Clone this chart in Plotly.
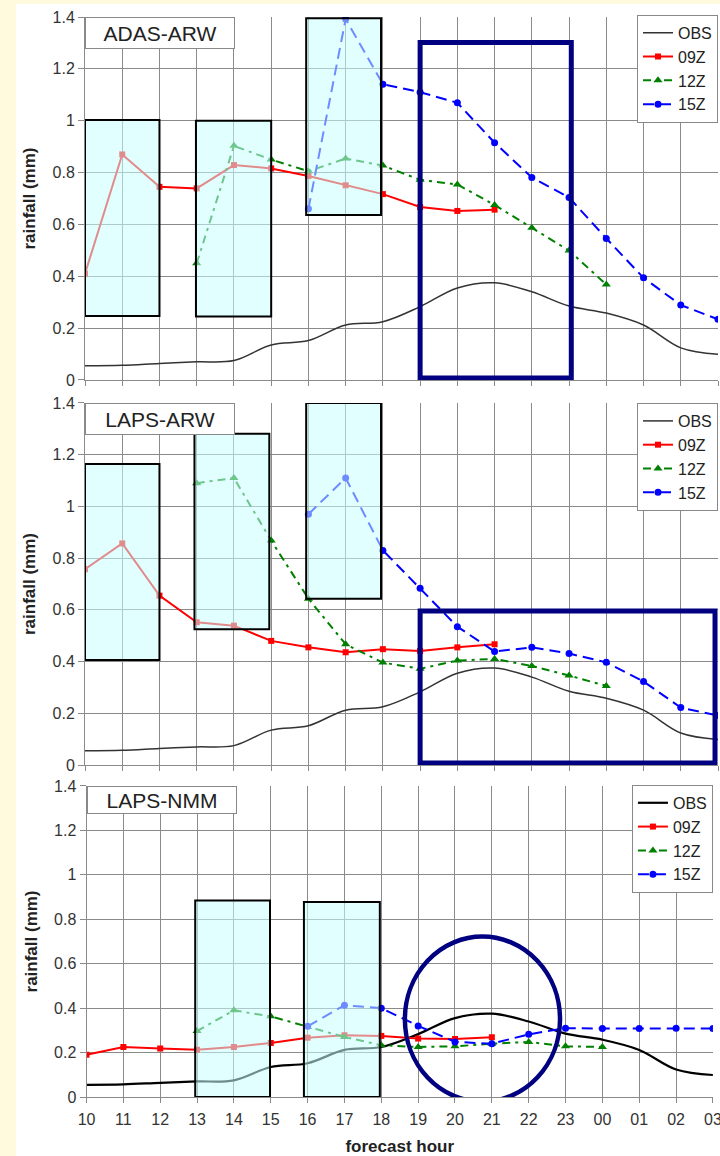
import plotly.graph_objects as go

# ---------------- data ----------------
hours = ["10", "11", "12", "13", "14", "15", "16", "17", "18",
         "19", "20", "21", "22", "23", "00", "01", "02", "03"]

obs = [0.055, 0.057, 0.064, 0.07, 0.075, 0.135, 0.152, 0.212, 0.225,
       0.283, 0.355, 0.375, 0.34, 0.285, 0.258, 0.212, 0.124, 0.099]

adas_09 = [0.41, 0.87, 0.745, 0.739, 0.829, 0.816, 0.787, 0.751, 0.717,
           0.667, 0.652, 0.657, None, None, None, None, None, None]
adas_12 = [None, None, None, 0.45, 0.903, 0.85, 0.805, 0.854, 0.827,
           0.772, 0.754, 0.675, 0.587, 0.499, 0.368, None, None, None]
adas_15 = [None, None, None, None, None, None, 0.66, 1.392, 1.141,
           1.11, 1.069, 0.915, 0.781, 0.704, 0.546, 0.394, 0.289, 0.234]

lapsarw_09 = [0.757, 0.857, 0.655, 0.552, 0.539, 0.48, 0.455, 0.436, 0.448,
              0.441, 0.455, 0.467, None, None, None, None, None, None]
lapsarw_12 = [None, None, None, 1.09, 1.11, 0.868, 0.643, 0.467, 0.396,
              0.372, 0.404, 0.41, 0.383, 0.346, 0.306, None, None, None]
lapsarw_15 = [None, None, None, None, None, None, 0.97, 1.11, 0.83,
              0.684, 0.535, 0.439, 0.455, 0.431, 0.397, 0.323, 0.222, 0.191]

lapsnmm_09 = [0.19, 0.225, 0.218, 0.213, 0.225, 0.243, 0.267, 0.278, 0.275,
              0.263, 0.261, 0.269, None, None, None, None, None, None]
lapsnmm_12 = [None, None, None, 0.297, 0.39, 0.363, 0.315, 0.27, 0.233,
              0.225, 0.228, 0.24, 0.248, 0.228, 0.225, None, None, None]
lapsnmm_15 = [None, None, None, None, None, None, 0.318, 0.413, 0.40,
              0.32, 0.248, 0.24, 0.282, 0.31, 0.308, 0.308, 0.31, 0.308]

panel_names = ["ADAS-ARW", "LAPS-ARW", "LAPS-NMM"]
series_names = ["OBS", "09Z", "12Z", "15Z"]
y_ticks = [0, 0.2, 0.4, 0.6, 0.8, 1.0, 1.2, 1.4]

# highlighted regions (hour-index, rainfall)
cyan_boxes = [
    [(0.0, 2.0, 0.247, 1.003), (2.98, 5.0, 0.245, 1.0), (5.94, 7.95, 0.636, 1.395)],
    [(0.0, 2.0, 0.406, 1.164), (2.94, 4.95, 0.525, 1.281), (5.94, 7.95, 0.643, 1.4)],
    [(2.95, 4.98, 0.0, 0.885), (5.9, 7.96, 0.0, 0.878)],
]
navy_rects = [(9.0, 13.06, 0.008, 1.302), (9.0, 16.92, 0.008, 0.596), None]
navy_circle = (8.64, 12.85, -0.021, 0.722)

# ---------------- figure ----------------
FONT = "Liberation Sans, Arial, sans-serif"
YELLOW = "rgb(255,249,222)"
GRID = "#8a8a8a"
x_idx = list(range(len(hours)))

panels = [
    (adas_09, adas_12, adas_15),
    (lapsarw_09, lapsarw_12, lapsarw_15),
    (lapsnmm_09, lapsnmm_12, lapsnmm_15),
]

ydomains = [[0.6639, 1.0], [0.3074, 0.6426], [0.0, 0.288]]
xdomains = [[0.0, 1.0], [0.0, 1.0], [0.0024, 0.992]]
legend_pos = [(1.0, 1.002), (1.0, 0.6426), (0.992, 0.289)]

fig = go.Figure()
layout = dict(
    width=720, height=1156,
    margin=dict(l=85, r=2, t=17, b=59),
    paper_bgcolor=YELLOW, plot_bgcolor="white",
    font=dict(family=FONT, color="#222"),
    showlegend=True,
    shapes=[], annotations=[],
)

# white page area
layout["shapes"].append(dict(type="rect", xref="paper", yref="paper",
                             x0=-0.109, x1=1.1, y0=-0.1, y1=1.012,
                             fillcolor="white", line=dict(width=0), layer="below"))

for p, (s09, s12, s15) in enumerate(panels):
    n = "" if p == 0 else str(p + 1)
    xa, ya = "x" + n, "y" + n
    leg = "legend" + n
    obs_w = 2.2 if p == 2 else 1.5
    obs_c = "#000" if p == 2 else "#333"

    fig.add_trace(go.Scatter(x=x_idx, y=obs, name=series_names[0], mode="lines",
                             line=dict(color=obs_c, width=obs_w, shape="spline"),
                             xaxis=xa, yaxis=ya, legend=leg))
    fig.add_trace(go.Scatter(x=x_idx, y=s09, name=series_names[1], mode="lines+markers",
                             line=dict(color="#ff0000", width=2),
                             marker=dict(symbol="square", size=6, color="#ff0000"),
                             xaxis=xa, yaxis=ya, legend=leg))
    fig.add_trace(go.Scatter(x=x_idx, y=s12, name=series_names[2], mode="lines+markers",
                             line=dict(color="#008000", width=2, dash="8px,5px,3px,5px"),
                             marker=dict(symbol="triangle-up", size=8, color="#008000"),
                             xaxis=xa, yaxis=ya, legend=leg))
    fig.add_trace(go.Scatter(x=x_idx, y=s15, name=series_names[3], mode="lines+markers",
                             line=dict(color="#0000ff", width=2, dash="11px,6px"),
                             marker=dict(symbol="circle", size=7, color="#0000ff"),
                             xaxis=xa, yaxis=ya, legend=leg))

    layout["xaxis" + n] = dict(
        domain=xdomains[p], anchor=ya, range=[0, 17],
        tickvals=x_idx, ticktext=hours, showticklabels=(p == 2),
        ticks="outside", ticklen=5, tickcolor=GRID, ticklabelstandoff=3,
        ticklabeloverflow="allow",
        showgrid=True, gridcolor=GRID, gridwidth=1,
        showline=True, linecolor=GRID, linewidth=1, zeroline=False,
        tickfont=dict(size=16, color="#333"),
        title=dict(text="forecast hour" if p == 2 else "",
                   font=dict(size=17, weight="bold", color="#222"), standoff=19),
        automargin=False,
    )
    layout["yaxis" + n] = dict(
        domain=ydomains[p], anchor=xa, range=[0, 1.4],
        tickvals=y_ticks, ticks="outside", ticklen=6, tickcolor=GRID,
        showgrid=True, gridcolor=GRID, gridwidth=1,
        showline=True, linecolor=GRID, linewidth=1,
        zeroline=True, zerolinecolor=GRID, zerolinewidth=1,
        tickfont=dict(size=16, color="#333"),
        title=dict(text="rainfall (mm)", font=dict(size=17, weight="bold", color="#222"),
                   standoff=12),
        automargin=False,
    )
    lx, ly = legend_pos[p]
    layout[leg] = dict(
        x=lx, y=ly, xanchor="right", yanchor="top",
        bgcolor="white", bordercolor="#888", borderwidth=1,
        font=dict(size=16, color="#222", family=FONT),
        tracegroupgap=0, itemwidth=30,
    )

    # panel title box
    layout["annotations"].append(dict(
        text=panel_names[p], xref=xa + " domain", yref=ya + " domain",
        x=0, y=1, xanchor="left", yanchor="top", showarrow=False,
        font=dict(size=21, color="#222", family=FONT),
        bgcolor="white", bordercolor="#888", borderwidth=1, borderpad=1,
        width=146, height=28 if p < 2 else 24,
    ))

    for (x0, x1, y0, y1) in cyan_boxes[p]:
        layout["shapes"].append(dict(type="rect", xref=xa, yref=ya,
                                     x0=x0, x1=x1, y0=y0, y1=y1,
                                     fillcolor="rgba(200,255,255,0.55)",
                                     line=dict(color="black", width=2), layer="above"))
    if navy_rects[p] is not None:
        x0, x1, y0, y1 = navy_rects[p]
        layout["shapes"].append(dict(type="rect", xref=xa, yref=ya,
                                     x0=x0, x1=x1, y0=y0, y1=y1,
                                     line=dict(color="#000080", width=5), layer="above"))
    if p == 2:
        x0, x1, y0, y1 = navy_circle
        layout["shapes"].append(dict(type="circle", xref=xa, yref=ya,
                                     x0=x0, x1=x1, y0=y0, y1=y1,
                                     line=dict(color="#000080", width=4.5), layer="above"))

fig.update_layout(**layout)
fig.write_html(
    "out.html",
    config={"displayModeBar": False},
    post_script="document.body.style.margin='0';document.body.style.background='white';",
)
